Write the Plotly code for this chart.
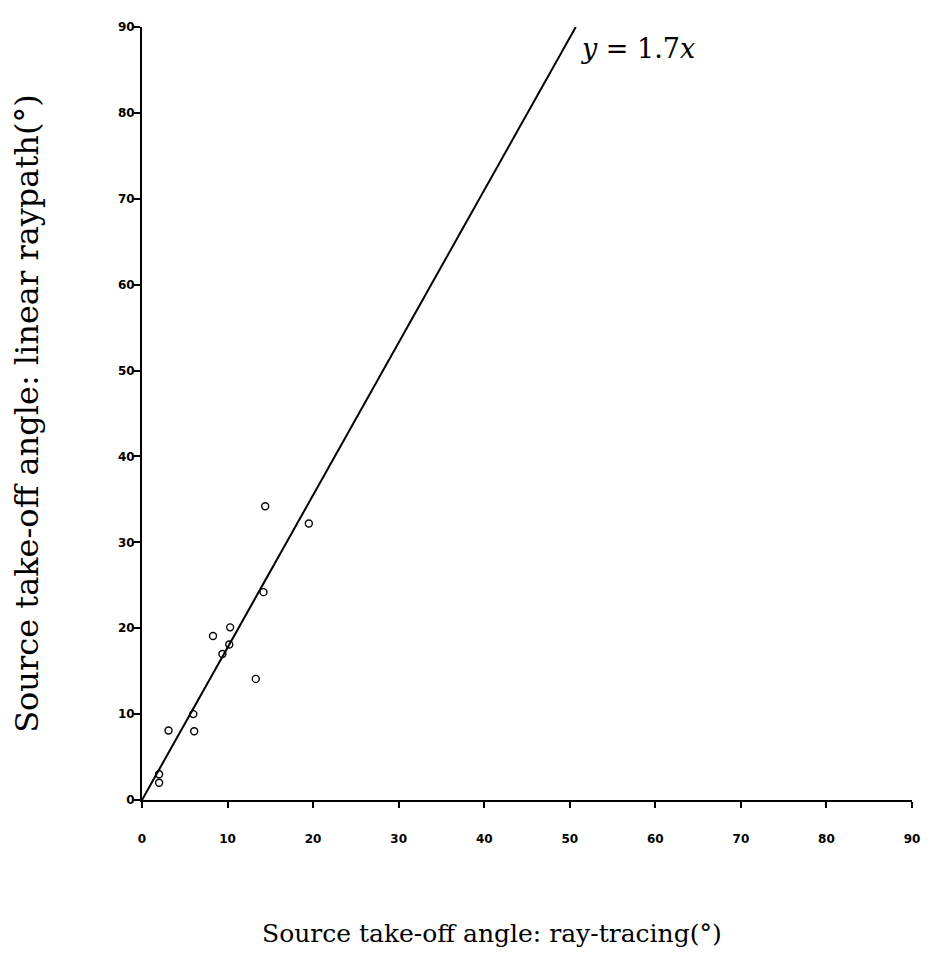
import plotly.graph_objects as go

# Data
ray_tracing = [14.4, 19.5, 14.2, 10.3, 8.3, 10.2, 9.4, 13.3, 6.0, 3.1, 6.1, 2.0, 2.0]
linear_raypath = [34.2, 32.2, 24.2, 20.1, 19.1, 18.1, 17.0, 14.1, 10.0, 8.1, 8.0, 3.0, 2.0]

fit_x = [0, 50.7]
fit_y = [0, 90]

tick_vals = [0, 10, 20, 30, 40, 50, 60, 70, 80, 90]
tick_text = ["0", "10", "20", "30", "40", "50", "60", "70", "80", "90"]

x_title = "Source take-off angle: ray-tracing(°)"
y_title = "Source take-off angle: linear raypath(°)"

serif = "DejaVu Serif, Liberation Serif, serif"
tickfont = dict(family="DejaVu Sans, Arial, sans-serif", size=12, color="black", weight="bold")

fig = go.Figure()
fig.add_trace(go.Scatter(x=fit_x, y=fit_y, mode="lines",
                         line=dict(color="black", width=2), showlegend=False,
                         hoverinfo="skip"))
fig.add_trace(go.Scatter(x=ray_tracing, y=linear_raypath, mode="markers",
                         marker=dict(symbol="circle-open", size=7,
                                     color="black", line=dict(width=1.4)),
                         showlegend=False, cliponaxis=False))

fig.add_annotation(x=58, y=87.5, xref="x", yref="y",
                   text="<i>y</i> = 1.7<i>x</i>", showarrow=False,
                   font=dict(family=serif, size=27, color="black"))

fig.add_annotation(x=0.455, y=-0.173, xref="paper", yref="paper",
                   xanchor="center", yanchor="middle",
                   text=x_title, showarrow=False,
                   font=dict(family=serif, size=25, color="black"))

common = dict(range=[0, 90], tickmode="array", tickvals=tick_vals,
              showgrid=False, zeroline=False, ticks="outside", ticklen=6,
              tickwidth=1.5, tickcolor="black", showline=True,
              linecolor="black", linewidth=2)

fig.update_layout(
    width=924, height=945,
    paper_bgcolor="white", plot_bgcolor="white",
    margin=dict(l=134, r=18, t=13, b=153),
    xaxis=dict(**common, ticktext=tick_text, tickfont=tickfont,
               ticklabelstandoff=21),
    yaxis=dict(**common, ticktext=tick_text, tickfont=tickfont,
               ticklabelstandoff=-3,
               title=dict(text=y_title,
                          font=dict(family=serif, size=32, color="black"),
                          standoff=70)),
    xaxis2=dict(range=[0, 90], overlaying="x", anchor="y", side="bottom",
                tickmode="array", tickvals=tick_vals, ticks="inside",
                ticklen=6, tickwidth=1.5, tickcolor="black",
                showticklabels=False, showgrid=False, zeroline=False,
                showline=False),
    yaxis2=dict(range=[0, 90], overlaying="y", anchor="x", side="left",
                tickmode="array", tickvals=tick_vals, ticks="inside",
                ticklen=6, tickwidth=1.5, tickcolor="black",
                showticklabels=False, showgrid=False, zeroline=False,
                showline=False),
)

fig.write_html("out.html")
